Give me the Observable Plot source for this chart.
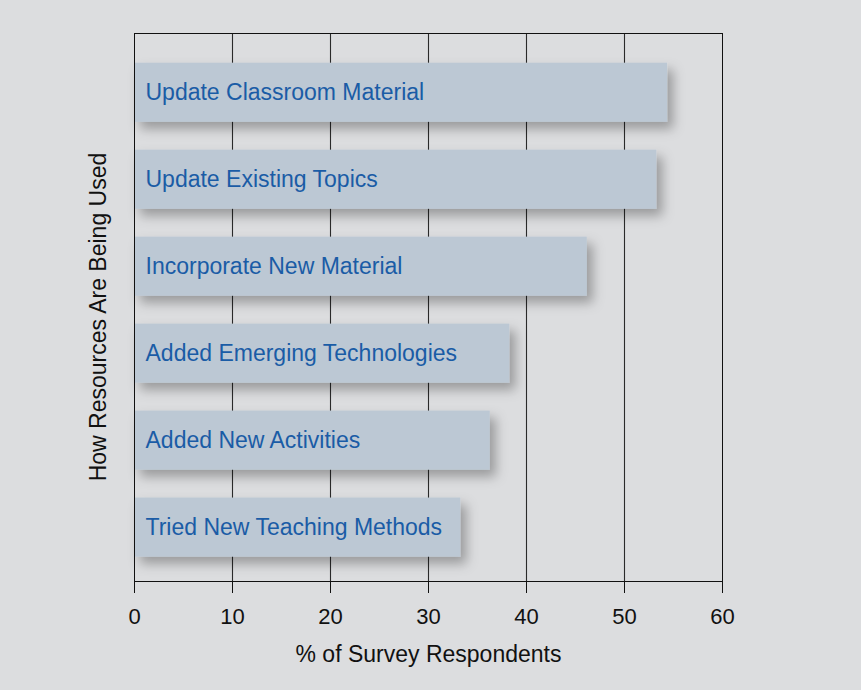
<!DOCTYPE html>
<html>
<head>
<meta charset="utf-8">
<script src="https://cdn.jsdelivr.net/npm/d3@7"></script>
<script src="https://cdn.jsdelivr.net/npm/@observablehq/plot@0.6"></script>
<style>
  html, body { margin: 0; padding: 0; background: #dcdddf; }
  #chart { width: 861px; height: 690px; }
</style>
</head>
<body>
<div id="chart"></div>
<script>
const categories = [
  "Update Classroom Material",
  "Update Existing Topics",
  "Incorporate New Material",
  "Added Emerging Technologies",
  "Added New Activities",
  "Tried New Teaching Methods"
];
const values = [54.4, 53.3, 46.2, 38.3, 36.3, 33.3];
const xTicks = [0, 10, 20, 30, 40, 50, 60];
const xLabel = "% of Survey Respondents";
const yLabel = "How Resources Are Being Used";

const data = categories.map((c, i) => ({category: c, value: values[i]}));

const chart = Plot.plot({
  width: 861,
  height: 690,
  marginLeft: 134,
  marginRight: 139,
  marginTop: 33,
  marginBottom: 109,
  style: {
    background: "#dcdddf",
    fontFamily: "'Liberation Sans', Arial, sans-serif",
    fontSize: "22px",
    color: "#111"
  },
  x: {
    domain: [0, 60],
    ticks: xTicks,
    tickSize: 12,
    tickPadding: 15,
    label: null
  },
  y: {
    domain: categories,
    range: [62.7, 556.7],
    paddingInner: 0.32,
    paddingOuter: 0,
    round: false,
    axis: null
  },
  marks: [
    Plot.ruleX(xTicks.slice(1, -1), {stroke: "#2a2a2a", strokeWidth: 1.1}),
    Plot.barX(data, {y: "category", x: "value", fill: "#bcc8d4"}),
    Plot.text(data, {
      y: "category", x: () => 0, text: "category",
      textAnchor: "start", dx: 11, fill: "#1a5ca6", fontSize: 23
    }),
    Plot.frame({stroke: "#111"}),
    Plot.text([xLabel], {
      frameAnchor: "bottom", text: d => d, dy: 80, fontSize: 23, fill: "#111"
    }),
    Plot.text([yLabel], {
      frameAnchor: "left", textAnchor: "middle", text: d => d, rotate: -90,
      dx: -36, dy: 9.5, fontSize: 23, fill: "#111"
    })
  ]
});

// drop shadow for bars
const svg = d3.select(chart.tagName.toLowerCase() === "svg" ? chart : chart.querySelector("svg"));
const defs = svg.insert("defs", ":first-child");
const f = defs.append("filter").attr("id", "barShadow")
  .attr("x", "-10%").attr("y", "-10%").attr("width", "130%").attr("height", "130%");
f.append("feDropShadow").attr("dx", 6).attr("dy", 7).attr("stdDeviation", 6)
  .attr("flood-color", "#000").attr("flood-opacity", 0.3);
svg.selectAll("g[aria-label='bar']").attr("filter", "url(#barShadow)");

document.getElementById("chart").appendChild(chart);
</script>
</body>
</html>
